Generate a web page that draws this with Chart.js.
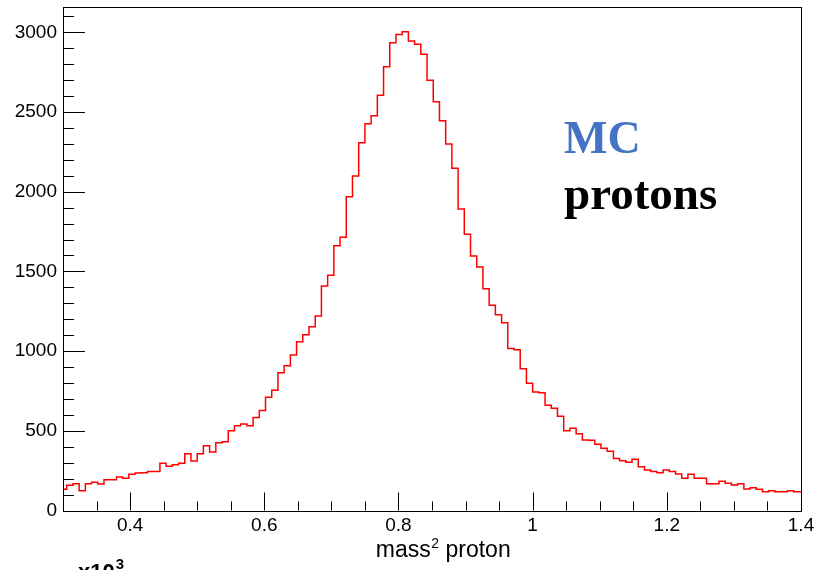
<!DOCTYPE html>
<html><head><meta charset="utf-8">
<script src="https://cdn.jsdelivr.net/npm/chart.js@4/dist/chart.umd.min.js"></script>
<style>html,body{margin:0;padding:0;background:#fff;}#wrap{width:817px;height:570px;position:relative;overflow:hidden;}</style>
</head><body><div id="wrap"><canvas id="c" width="817" height="570"></canvas></div>
<script>
// Histogram binning (data space)
const binLowFirst = 32 / 108;   // lower edge of first (partly visible) bin
const binWidth = 1 / 108;
// Bin contents
const counts = [
  133, 158, 168, 124, 168, 177, 166, 193, 193, 210,
  202, 227, 236, 237, 244, 244, 296, 277, 287, 296,
  356, 311, 356, 407, 367, 425, 432, 500, 532, 542,
  532, 584, 627, 711, 754, 864, 908, 976, 1058, 1102,
  1153, 1220, 1408, 1476, 1661, 1714, 1969, 2098, 2308, 2427,
  2477, 2605, 2784, 2935, 2987, 3004, 2945, 2925, 2862, 2699,
  2565, 2446, 2299, 2147, 1891, 1733, 1596, 1527, 1391, 1288,
  1228, 1178, 1016, 1009, 889, 798, 744, 738, 660, 642,
  592, 501, 516, 482, 442, 440, 416, 390, 371, 327,
  312, 302, 321, 275, 254, 244, 237, 254, 244, 229,
  202, 227, 202, 202, 168, 168, 184, 171, 160, 168,
  135, 143, 134, 118, 124, 118, 118, 124, 118, 118
];
const xRange = [0.3, 1.4];
const yRange = [0, 3159];
const xTickLabels = [0.4, 0.6, 0.8, 1, 1.2, 1.4];
const yTickLabels = [0, 500, 1000, 1500, 2000, 2500, 3000];
const xMinorStep = 0.05;
const yMinorStep = 100;
const xTitleMain = 'mass', xTitleSup = '2', xTitleRest = ' proton';
const labelMC = 'MC';
const labelProtons = 'protons';

const pts = [];
counts.forEach((c, i) => {
  const lo = binLowFirst + i * binWidth;
  pts.push({x: lo, y: c});
  pts.push({x: lo + binWidth, y: c});
});

const SANS = "'Liberation Sans', Arial, sans-serif";
const SERIF = "'Liberation Serif', 'Times New Roman', serif";

const decor = {
  id: 'decor',
  afterDraw(chart) {
    const {ctx, chartArea: a, scales: {x, y}} = chart;
    ctx.save();
    ctx.strokeStyle = '#000';
    ctx.lineWidth = 1;
    // frame
    ctx.strokeRect(Math.round(a.left) + 0.5, Math.round(a.top) + 0.5,
      Math.round(a.right - a.left), Math.round(a.bottom - a.top));
    ctx.beginPath();
    // y ticks (inward)
    for (let v = yRange[0]; v <= yRange[1]; v += yMinorStep) {
      const py = Math.round(y.getPixelForValue(v)) + 0.5;
      const len = yTickLabels.includes(v) ? 22 : 11;
      ctx.moveTo(a.left, py); ctx.lineTo(a.left + len, py);
    }
    // x ticks (inward)
    for (let k = 0; ; k++) {
      const v = Math.round((xRange[0] + k * xMinorStep) * 1000) / 1000;
      if (v > xRange[1] + 1e-9) break;
      const px = Math.round(x.getPixelForValue(v)) + 0.5;
      const isMajor = xTickLabels.some(t => Math.abs(t - v) < 1e-6);
      const len = isMajor ? 18 : 9;
      ctx.moveTo(px, a.bottom); ctx.lineTo(px, a.bottom - len);
    }
    ctx.stroke();
    ctx.textAlign = 'left';
    ctx.textBaseline = 'alphabetic';
    ctx.fillStyle = '#000';
    // x axis title: mass^2 proton
    const tf = "23px 'Liberation Sans Narrow', " + SANS;
    const sf = "14px 'Liberation Sans Narrow', " + SANS;
    ctx.font = tf; const w1 = ctx.measureText(xTitleMain).width;
    const w3 = ctx.measureText(xTitleRest).width;
    ctx.font = sf; const w2 = ctx.measureText(xTitleSup).width;
    const tx = 443 - (w1 + w2 + w3) / 2, ty = 557;
    ctx.font = tf; ctx.fillText(xTitleMain, tx, ty);
    ctx.font = sf; ctx.fillText(xTitleSup, tx + w1 + 0.5, ty - 9);
    ctx.font = tf; ctx.fillText(xTitleRest, tx + w1 + w2 + 0.5, ty);
    // text annotations
    ctx.fillStyle = '#4472C4';
    ctx.font = "bold 46px " + SERIF;
    ctx.fillText(labelMC, 564, 153);
    ctx.fillStyle = '#000';
    ctx.font = "bold 47px " + SERIF;
    ctx.fillText(labelProtons, 564, 209);
    // exponent label at bottom left
    ctx.font = "bold 22px " + SANS;
    ctx.fillText('x10', 78, 579);
    const w = ctx.measureText('x10').width;
    ctx.font = "bold 15px " + SANS;
    ctx.fillText('3', 78 + w + 1, 569);
    ctx.restore();
  }
};

new Chart(document.getElementById('c'), {
  type: 'line',
  data: {
    datasets: [{
      data: pts,
      borderColor: '#ff0000',
      borderWidth: 1.5,
      pointRadius: 0,
      fill: false,
      tension: 0,
      clip: 0
    }]
  },
  options: {
    responsive: false,
    animation: false,
    devicePixelRatio: 1,
    layout: {padding: {left: 0, right: 16, top: 7, bottom: 0}},
    plugins: {legend: {display: false}, tooltip: {enabled: false}},
    scales: {
      x: {
        type: 'linear', min: xRange[0], max: xRange[1], position: 'bottom',
        grid: {display: false, drawTicks: false},
        border: {display: false},
        afterBuildTicks(s) { s.ticks = xTickLabels.map(v => ({value: v})); },
        ticks: {padding: 4, maxRotation: 0, autoSkip: false,
                callback: v => String(+Number(v).toFixed(2)),
                color: '#000', font: {family: SANS, size: 19}},
        title: {display: false},
        afterFit(s) { s.height = 59.5; s.paddingLeft = 0; s.paddingRight = 0; }
      },
      y: {
        type: 'linear', min: yRange[0], max: yRange[1],
        grid: {display: false, drawTicks: false},
        border: {display: false},
        afterBuildTicks(s) { s.ticks = yTickLabels.map(v => ({value: v})); },
        ticks: {padding: 6, callback: v => String(v),
                color: '#000', font: {family: SANS, size: 19}},
        afterFit(s) { s.width = 63; s.paddingTop = 0; s.paddingBottom = 0; }
      }
    }
  },
  plugins: [decor]
});
</script></body></html>
